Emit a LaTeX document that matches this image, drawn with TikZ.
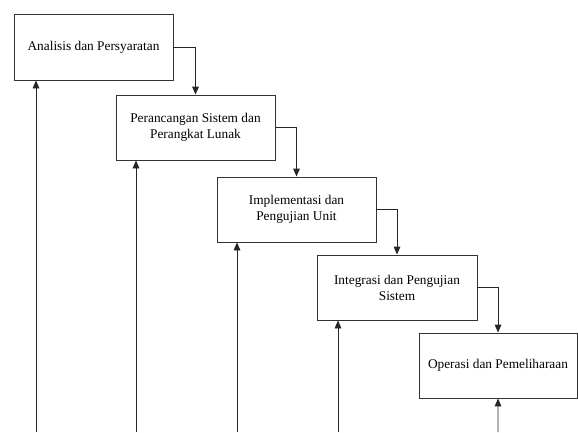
\documentclass[tikz,border=0pt]{standalone}
\usepackage{fontspec}
\setmainfont{Liberation Serif}
\usetikzlibrary{arrows.meta}

\tikzset{
  tahap/.style={draw=black!80,line width=0.7pt,fill=white,align=center,
    minimum width=159pt,minimum height=64pt,inner sep=2pt,
    font=\fontsize{10}{12}\selectfont},
  alur/.style={draw=black!85,line width=0.7pt,-{Triangle[length=6pt,width=5pt]}}
}

\begin{document}
\begin{tikzpicture}[x=1pt,y=-1pt,scale=0.75,every node/.style={transform shape=false}]
				\useasboundingbox[fill=white] (0,0) rectangle (578,432); % frame of the whole figure
				% the five stages
				\node[tahap,minimum width=119.25pt,minimum height=49.5pt] (analisis) at (93.5,47) {Analisis dan Persyaratan};
				\node[tahap,minimum width=119.25pt,minimum height=48.75pt] (rancang) at (195.5,127.5) {Perancangan Sistem dan\\Perangkat Lunak};
				\node[tahap,minimum width=119.25pt,minimum height=48.75pt] (implementasi) at (296.5,209.5) {Implementasi dan\\Pengujian Unit};
				\node[tahap,minimum width=120pt,minimum height=48.75pt] (integrasi) at (397,287.5) {Integrasi dan Pengujian\\Sistem};
				\node[tahap,minimum width=118.5pt,minimum height=48.75pt] (operasi) at (498,365.5) {Operasi dan Pemeliharaan};
				% going down the cascade
				\draw[alur] (analisis) -| (rancang);
				\draw[alur] (rancang) -| (implementasi);
				\draw[alur] (implementasi) -| (integrasi);
				\draw[alur] (integrasi) -| (operasi);
				% feedback lines coming up from below
				\coordinate (balik1) at (36,432);
				\coordinate (balik2) at (136,432);
				\coordinate (balik3) at (237,432);
				\coordinate (balik4) at (338,432);
				\coordinate (balik5) at (498,432);
				\draw[alur] (balik1) -- (balik1 |- analisis.south);
				\draw[alur] (balik2) -- (balik2 |- rancang.south);
				\draw[alur] (balik3) -- (balik3 |- implementasi.south);
				\draw[alur] (balik4) -- (balik4 |- integrasi.south);
				\draw[alur] (balik5) -- (operasi);
\end{tikzpicture}
\end{document}
